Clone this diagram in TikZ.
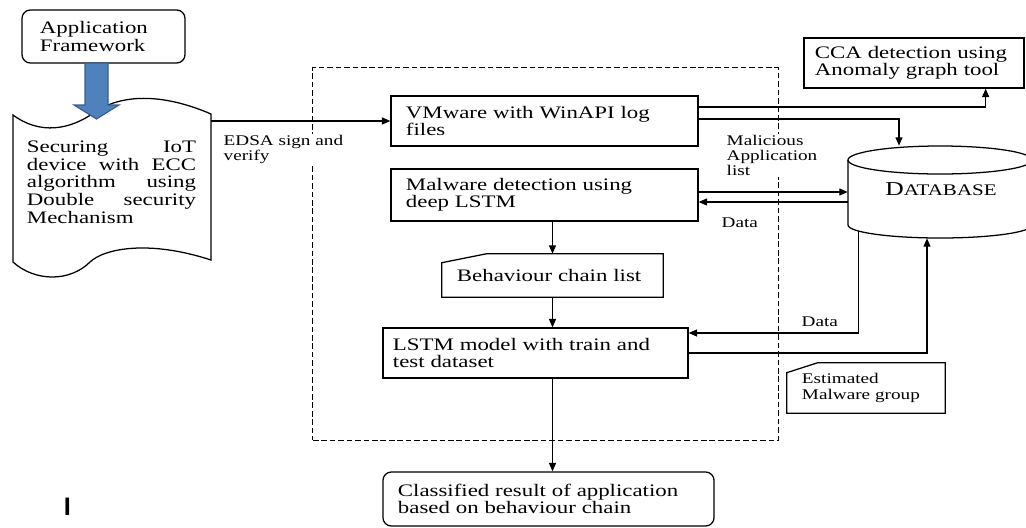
\documentclass[tikz,border=0pt]{standalone}
\usepackage{fontspec}
\setmainfont{Liberation Serif}[FakeStretch=1.3]
\setsansfont{Liberation Sans}
\usetikzlibrary{arrows.meta}
\usetikzlibrary{calc}
\definecolor{fwblue}{RGB}{79,129,189}
\definecolor{fwblueline}{RGB}{56,93,138}

\begin{document}
\begin{tikzpicture}[x=0.025cm,y=-0.025cm]
    \tikzstyle{every node}=[font=\fontsize{12.5}{12.2}\selectfont]
    \tikzstyle{box}=[draw,line width=0.9pt,inner xsep=0.375cm,inner ysep=0pt,align=left]
    \tikzstyle{rbox}=[box,rounded corners=6pt]
    \tikzstyle{lbl}=[font=\fontsize{10.5}{10.5}\selectfont,align=left,inner sep=1pt,fill=white]
    \tikzstyle{arr}=[line width=0.9pt,-{Triangle[length=6pt,width=5pt]}]
    \tikzstyle{line}=[line width=0.9pt]
    \useasboundingbox (0,0) rectangle (1026,527);

    % dashed frame round the detection part
    \node[draw,dash pattern=on 4pt off 2pt,line width=0.7pt,minimum width=11.625cm,minimum height=9.3cm,inner sep=0] (frame) at (545.5,254) {};

    % left side
    \node[rbox,text width=3.175cm,inner xsep=0.45cm,minimum height=1.325cm] (app) at (103.5,36.5) {Application\\Framework};
    \node[minimum width=4.95cm,minimum height=3.7cm,inner sep=0] (tape) at (112,189) {};
    % wavy outline of the tape
    \draw[line] (13,115) .. controls (40,135) and (70,130) .. (95,112) .. controls (120,95) and (160,92) .. (211,114)
      -- (211,260) .. controls (150,240) and (105,248) .. (90,262) .. controls (70,282) and (35,282) .. (13,262) -- cycle;
    \node[text width=4.225cm,align=justify,inner sep=0,font=\fontsize{12.5}{12.6}\selectfont] (tapetxt) at (111.5,182)
      {Securing IoT\linebreak device with ECC\linebreak algorithm using\linebreak Double security\linebreak Mechanism};
    % block arrow
    \draw[fill=fwblue,draw=fwblueline,line width=0.8pt] (85,63) -- (85,105) -- (74,105) -- (96.5,119)
      -- (119,105) -- (108,105) -- (108,63) -- cycle;

    % boxes inside the frame
    \node[box,text width=6.925cm,minimum height=1.25cm] (vmw) at (544.5,121) {VMware with WinAPI log\\files};
    \node[box,text width=6.925cm,minimum height=1.3cm] (mdet) at (544.5,195) {Malware detection using\\deep LSTM};
    \node[text width=4.775cm,inner xsep=0.375cm,inner ysep=0pt,minimum height=1.075cm] (chain) at (552.5,275.5) {Behaviour chain list};
    \draw[line] ([yshift=-0.225cm]chain.north west) -- ([xshift=1.125cm]chain.north west) -- (chain.north east)
      -- (chain.south east) -- (chain.south west) -- cycle;
    \node[box,text width=7.125cm,inner xsep=0.25cm,minimum height=1.25cm] (lstm) at (535.5,353) {LSTM model with train and\\test dataset};
    \node[rbox,text width=7.525cm,minimum height=1.35cm] (cls) at (548.5,499) {Classified result of application\\based on behaviour chain};

    % right side
    \node[box,text width=4.95cm,inner xsep=0.275cm,minimum height=1.25cm] (cca) at (914,63) {CCA detection using\\Anomaly graph tool};
    \node[minimum width=4.6cm,minimum height=2.3cm,inner sep=0] (db) at (940,192) {};
    \draw[line] (940,160) ellipse [x radius=2.3cm,y radius=0.35cm];
    \draw[line] (848,160) -- (848,225) arc[start angle=180,end angle=360,x radius=2.3cm,y radius=0.325cm] -- (1032,160);
    \node (dbtxt) at (941,189) {\fontsize{14}{14}\selectfont D\fontsize{11.5}{11.5}\selectfont ATABASE};
    \node[text width=3.2cm,inner xsep=0.375cm,inner ysep=0pt,minimum height=1.25cm,font=\fontsize{10.5}{11.5}\selectfont,align=left] (est) at (866,388) {Estimated\\Malware group};
    \draw[line] ([yshift=-0.25cm]est.north west) -- ([xshift=0.775cm]est.north west) -- (est.north east)
      -- (est.south east) -- (est.south west) -- cycle;

    % labels
    \node[lbl,anchor=north west] (edsa) at (222,134) {EDSA sign and\\verify};
    \node[lbl,anchor=north west] (mal) at (725,134) {Malicious\\Application\\list};
    \node[lbl,fill=none,anchor=west] (data1) at (720,223) {Data};
    \node[lbl,fill=none,anchor=west] (data2) at (800,322) {Data};
    \node[font=\sffamily\bfseries\fontsize{18}{18}\selectfont,inner sep=0] (mark) at (67.5,507) {I};

    % connectors
    \draw[arr] (tape.east |- vmw.west) -- (vmw.west);
    \draw[arr] ([yshift=0.35cm]vmw.east) -| ([xshift=-0.975cm]cca.south east);
    \draw[arr] ([yshift=0.05cm]vmw.east) -| ([xshift=-1.025cm]db.north);
    \draw[arr] (mdet.east |- db.west) -- (db.west);
    \draw[arr] ([yshift=-0.25cm]db.west) -- ([yshift=-0.25cm]db.west -| mdet.east);
    \draw[arr] (mdet.south -| chain.north) -- (chain.north);
    \draw[arr] (chain.south) -- (chain.south |- lstm.north);
    \draw[arr] ([xshift=0.275cm,yshift=0.17cm]db.south west) |- ([yshift=0.5cm]lstm.east);
    \draw[arr] (lstm.east) -| ([xshift=-0.325cm]db.south);
    \draw[arr] (chain.south |- lstm.south) -- (chain.south |- cls.north);
\end{tikzpicture}
\end{document}
